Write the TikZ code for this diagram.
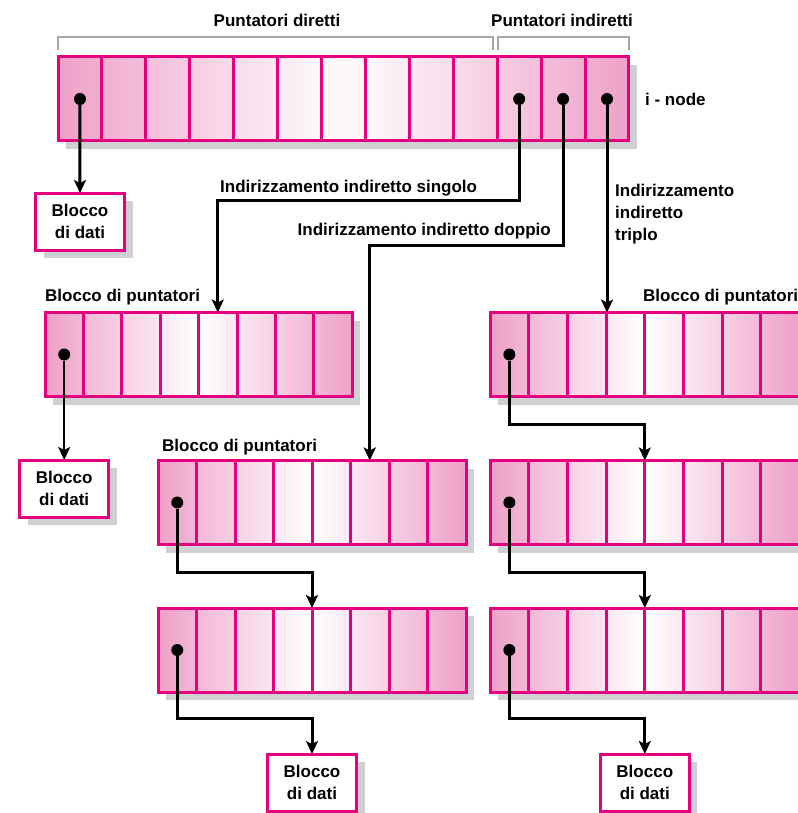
\documentclass[tikz,border=0pt]{standalone}
\usepackage{fontspec}
\setmainfont{Liberation Sans}
\usetikzlibrary{arrows.meta,shadows,positioning}
\definecolor{mag}{RGB}{228,0,126}
\definecolor{pinkc}{RGB}{238,160,200}
\definecolor{shad}{RGB}{206,209,211}
\definecolor{brkgray}{RGB}{165,168,170}

\begin{document}
\begin{tikzpicture}
  [x=1pt,y=-1pt,
   every node/.style={font=\fontsize{17}{22}\selectfont\bfseries},
   lbl/.style={inner sep=0pt},
   frame/.style={draw=mag,line width=3pt,fill=white,minimum height=84pt,inner sep=0pt,outer sep=0pt,
     general shadow={fill=shad,shadow xshift=8pt,shadow yshift=-8pt}},
   cell/.style={draw=mag,line width=3pt,minimum height=84pt,inner sep=0pt,outer sep=0pt},
   dot/.style={circle,fill=black,minimum size=12pt,inner sep=0pt},
   datbox/.style={draw=mag,line width=3pt,fill=white,minimum width=89pt,minimum height=57pt,
     align=center,outer sep=0pt,general shadow={fill=shad,shadow xshift=8pt,shadow yshift=-8pt}},
   ptr/.style={line width=3pt,-{Stealth[length=13pt,width=12pt,inset=3pt]}},
   brk/.style={draw=brkgray,line width=2.5pt}]

  \useasboundingbox (0,0) rectangle (797,813);

  % rows of pointer cells
  \foreach \nm/\lx/\cy/\n/\w in {ino/58/99/13/43.92, pa/45/354.5/8/38.4, pb/158/502.5/8/38.5,
      pc/158/650/8/38.5, ta/490/354.5/8/38.7, tb/490/502.5/8/38.7, tc/490/650/8/38.7}{
    \pgfmathsetmacro\rw{\n*\w}
    \node[frame,minimum width=\rw pt] (\nm) at ({\lx+\rw/2},\cy) {};
    \foreach \i in {1,...,\n}{
      \pgfmathtruncatemacro\pl{100*abs(2*(\i-1)/\n-1)}
      \pgfmathtruncatemacro\pr{100*abs(2*\i/\n-1)}
      \node[cell,minimum width=\w pt,left color=pinkc!\pl!white,right color=pinkc!\pr!white]
        (\nm-\i) at ({\lx+(\i-0.5)*\w},\cy) {};
    }
  }

  % pointers
  \node[dot] (dino) at (ino-1) {};
  \node[dot] (dsing) at (ino-11) {};
  \node[dot] (ddoub) at (ino-12) {};
  \node[dot] (dtrip) at (ino-13) {};
  \foreach \nm in {pa,pb,pc,ta,tb,tc}
    \node[dot] (d\nm) at (\nm-1) {};

  % data blocks
  \node[datbox] (dat1) at (80,221.5) {Blocco\\di dati};
  \node[datbox] (dat2) at (64.2,488.5) {Blocco\\di dati};
  \node[datbox] (dat3) at (312,782.5) {Blocco\\di dati};
  \node[datbox] (dat4) at (644.8,782.5) {Blocco\\di dati};

  % labels
  \node[lbl] (ldir) at (277,20) {Puntatori diretti};
  \node[lbl] (lind) at (562,20) {Puntatori indiretti};
  \node[lbl,right=16pt of ino-13] (lino) {i - node};
  \node[lbl,anchor=west] (lsing) at (220,188) {Indirizzamento indiretto singolo};
  \node[lbl,anchor=east] (ldoub) at (551,231) {Indirizzamento indiretto doppio};
  \node[lbl,anchor=north west,align=left] (ltrip) at (615,184) {Indirizzamento\\indiretto\\triplo};
  \node[lbl,anchor=west] (lpa) at (45,297) {Blocco di puntatori};
  \node[lbl,anchor=west] (lpb) at (162,447) {Blocco di puntatori};
  \node[lbl,anchor=west] (lta) at (643,297) {Blocco di puntatori};

  % brackets
  \draw[brk] ([yshift=7pt]ino-1.north west) |- ([xshift=-4pt,yshift=20pt]ino-10.north east)
    -- ([xshift=-4pt,yshift=7pt]ino-10.north east);
  \draw[brk] ([xshift=1pt,yshift=7pt]ino-11.north west) |- ([yshift=20pt]ino-13.north east)
    -- ([yshift=7pt]ino-13.north east);

  % connectors
  \draw[ptr] (dino) -- (dat1);
  \draw[ptr] (dsing) -- ++(0,101) -| (pa-5.north);
  \draw[ptr] (ddoub) -- ++(0,146) -| (pb-6.north);
  \draw[ptr] (dtrip) -- (dtrip |- ta-3.north east);
  \draw[ptr,line width=2.2pt] (dpa) -- (dat2);
  \draw[ptr] (dpb) -- ++(0,70) -| (pc.north);
  \draw[ptr] (dpc) -- ++(0,68) -| (dat3.north);
  \draw[ptr] (dta) -- ++(0,70) -| (tb.north);
  \draw[ptr] (dtb) -- ++(0,70) -| (tc.north);
  \draw[ptr] (dtc) -- ++(0,68) -| (dat4.north);
\end{tikzpicture}
\end{document}
